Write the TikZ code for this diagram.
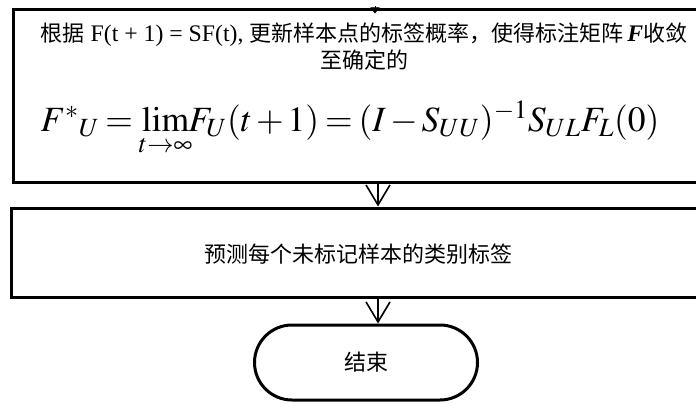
\documentclass[tikz,border=0pt]{standalone}
\usepackage{mathptmx}
\usepackage{fontspec}
\setmainfont[Scale=1.08]{Liberation Serif}
\newfontfamily\cjk{Noto Sans CJK SC}
\usetikzlibrary{arrows.meta,shapes.misc}
\tikzset{
  box/.style={draw, line width=3pt, rectangle, inner sep=0pt},
  endbox/.style={draw, line width=3pt, rounded rectangle, inner sep=0pt},
  arr/.style={line width=1.6pt, -{Straight Barb[length=20pt,width=24pt,line width=1.6pt]}},
  txt/.style={font=\fontsize{22}{27}\selectfont, align=center}
}
\begin{document}
\begin{tikzpicture}[x=1pt,y=-1pt]
\useasboundingbox (0,0) rectangle (696,404);
\clip (0,0) rectangle (696,404);
\node[box, minimum width=702pt, minimum height=172pt] (b1) at (364,96) {};
\node[box, minimum width=694pt, minimum height=89pt] (b2) at (358,252.5) {};
\node[endbox, minimum width=223pt, minimum height=75pt] (e) at (366,362.5) {};
\node[txt] (t1) at (364,47) {{\cjk 根据} F(t + 1) = SF(t), {\cjk 更新样本点的标签概率，使得标注矩阵}\,\textbf{\textit{F}}{\cjk 收敛}\\{\cjk 至确定的}};
\node[font=\fontsize{35.5}{40}\selectfont, anchor=base] (f) at (350,131) {\thickmuskip=3mu\medmuskip=2mu$F^{*}{}_{U} = \lim\limits_{t\to\infty}\!\! F_U(t+1) = (I-S_{UU})^{-1} S_{UL} F_L(0)$};
\node[txt] (t2) at (358,254) {\cjk 预测每个未标记样本的类别标签};
\node[txt] (t3) at (366,362) {\cjk 结束};
\coordinate (ax) at (378,0);
\coordinate (tx) at (375,6);
\draw[arr] (b1.south -| ax) -- (b2.north -| ax);
\draw[arr] (b2.south -| ax) -- (e.north -| ax);
\draw[-{Triangle[length=6pt,width=9pt]}] (tx) -- ([yshift=-5pt]b1.north -| tx);
\end{tikzpicture}
\end{document}
